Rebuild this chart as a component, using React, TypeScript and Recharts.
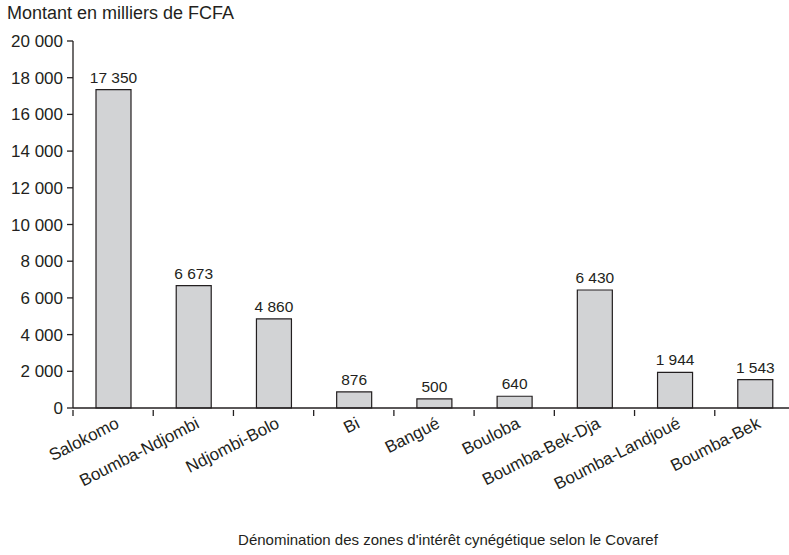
import { BarChart, Bar, XAxis, YAxis, LabelList } from 'recharts'

const zones = ['Salokomo', 'Boumba-Ndjombi', 'Ndjombi-Bolo', 'Bi', 'Bangué', 'Bouloba', 'Boumba-Bek-Dja', 'Boumba-Landjoué', 'Boumba-Bek']
const montants = [17350, 6673, 4860, 876, 500, 640, 6430, 1944, 1543]
const yTicks = [0, 2000, 4000, 6000, 8000, 10000, 12000, 14000, 16000, 18000, 20000]

const data = zones.map((zone, i) => ({ zone, montant: montants[i] }))

const FONT = '"Liberation Sans", Arial, Helvetica, sans-serif'
const INK = '#231f20'

// espace comme séparateur de milliers : 17 350
const fmt = (v: number) => String(v).replace(/\B(?=(\d{3})+(?!\d))/g, ' ')

const BAND = 722 / zones.length

function ZoneTick(props: any) {
    const { x, y, payload } = props
    const tx = x + 7
    const ty = y + 9
    return (
        <g>
            <line x1={x - BAND / 2} y1={y - 8} x2={x - BAND / 2} y2={y - 2} stroke={INK} strokeWidth={1.3} />
            <text
                x={tx}
                y={ty}
                textAnchor="end"
                transform={`rotate(-27, ${tx}, ${ty})`}
                fontFamily={FONT}
                fontSize={17}
                fill={INK}
            >
                {payload.value}
            </text>
        </g>
    )
}

function ValueLabel(props: any) {
    const { x, y, width, value } = props
    return (
        <text x={x + width / 2} y={y - 7} textAnchor="middle" fontFamily={FONT} fontSize={15.5} fill={INK}>
            {fmt(Number(value))}
        </text>
    )
}

export default function App() {
    return (
        <div style={{ position: 'relative', width: 789, height: 555, background: '#fff', fontFamily: FONT, overflow: 'hidden' }}>
            <style>{'body{margin:0}'}</style>
            <div style={{ position: 'absolute', left: 7, top: 3, fontSize: 18, color: INK, whiteSpace: 'nowrap' }}>
                Montant en milliers de FCFA
            </div>
            <BarChart width={789} height={555} data={data} margin={{ top: 41, right: -6, left: 0, bottom: 0 }} barSize={35}>
                <YAxis
                    width={73}
                    domain={[0, 20000]}
                    ticks={yTicks}
                    interval={0}
                    tickFormatter={fmt}
                    tick={{ fontSize: 17, fill: INK, fontFamily: FONT }}
                    axisLine={{ stroke: INK, strokeWidth: 1.3 }}
                    tickLine={{ stroke: INK, strokeWidth: 1.3 }}
                    tickSize={6}
                    tickMargin={4}
                />
                <XAxis
                    dataKey="zone"
                    height={147}
                    interval={0}
                    tick={<ZoneTick />}
                    axisLine={{ stroke: INK, strokeWidth: 1.3 }}
                    tickLine={false}
                    tickSize={8}
                />
                <Bar dataKey="montant" fill="#d2d3d5" stroke={INK} strokeWidth={1.2} isAnimationActive={false}>
                    <LabelList dataKey="montant" content={<ValueLabel />} />
                </Bar>
            </BarChart>
            <div style={{ position: 'absolute', left: 0, width: 896, top: 531, textAlign: 'center', fontSize: 15, color: INK, whiteSpace: 'nowrap' }}>
                Dénomination des zones d'intérêt cynégétique selon le Covaref
            </div>
        </div>
    )
}
